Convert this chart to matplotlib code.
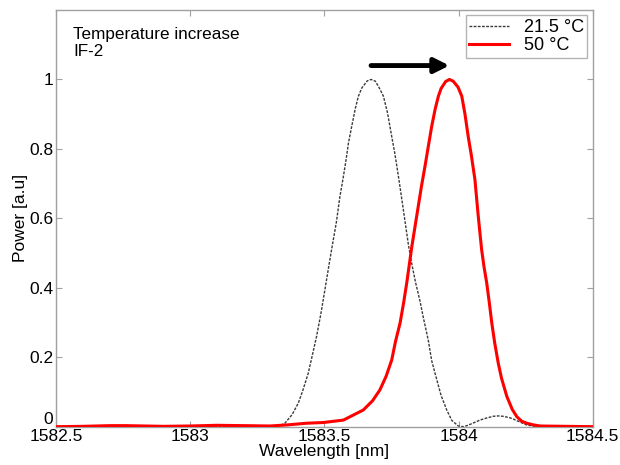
import matplotlib
matplotlib.use("Agg")
import matplotlib.pyplot as plt
import numpy as np

plt.rcParams['font.family'] = ['Liberation Sans', 'DejaVu Sans']

# 21.5 C spectrum
wl_cold = [1582.5, 1583.0, 1583.3, 1583.322, 1583.335, 1583.353, 1583.38, 1583.403,
           1583.42, 1583.44, 1583.455, 1583.471, 1583.487, 1583.502, 1583.515,
           1583.527, 1583.545, 1583.558, 1583.57, 1583.581, 1583.59, 1583.602,
           1583.615, 1583.627, 1583.64, 1583.66, 1583.674, 1583.69, 1583.705,
           1583.72, 1583.735, 1583.751, 1583.763, 1583.776, 1583.79, 1583.813,
           1583.826, 1583.84, 1583.856, 1583.87, 1583.887, 1583.9, 1583.919,
           1583.935, 1583.956, 1583.975, 1583.999, 1584.018, 1584.035, 1584.05,
           1584.065, 1584.08, 1584.1, 1584.13, 1584.148, 1584.165, 1584.19,
           1584.204, 1584.23, 1584.254, 1584.275, 1584.3, 1584.5]
pw_cold = [0.0, 0.0, 0.0, 0.001, 0.004, 0.010, 0.035, 0.068,
           0.105, 0.154, 0.205, 0.260, 0.325, 0.394, 0.455,
           0.510, 0.590, 0.663, 0.716, 0.769, 0.818, 0.865,
           0.915, 0.952, 0.976, 0.996, 1.0, 0.995, 0.975,
           0.952, 0.905, 0.836, 0.785, 0.721, 0.648, 0.525,
           0.468, 0.415, 0.363, 0.310, 0.250, 0.190, 0.135,
           0.090, 0.048, 0.018, 0.002, 0.0, 0.004, 0.009,
           0.014, 0.019, 0.024, 0.030, 0.031, 0.030, 0.026,
           0.022, 0.013, 0.005, 0.002, 0.0, 0.0]

# 50 C spectrum
wl_hot = [1582.5, 1582.6, 1582.7, 1582.76, 1582.9, 1583.0, 1583.1, 1583.2,
          1583.297, 1583.36, 1583.434, 1583.496, 1583.571, 1583.645, 1583.68,
          1583.707, 1583.73, 1583.751, 1583.765, 1583.782, 1583.795, 1583.807,
          1583.826, 1583.838, 1583.85, 1583.862, 1583.875, 1583.888, 1583.9,
          1583.913, 1583.925, 1583.935, 1583.952, 1583.966, 1583.98, 1583.998,
          1584.012, 1584.024, 1584.036, 1584.048, 1584.061, 1584.073, 1584.086,
          1584.095, 1584.105, 1584.115, 1584.124, 1584.135, 1584.148, 1584.16,
          1584.18, 1584.2, 1584.217, 1584.235, 1584.254, 1584.28, 1584.304,
          1584.4, 1584.5]
pw_hot = [0.0, 0.001, 0.003, 0.003, 0.001, 0.002, 0.004, 0.003,
          0.002, 0.005, 0.010, 0.012, 0.019, 0.048, 0.075,
          0.106, 0.145, 0.192, 0.245, 0.298, 0.355, 0.414,
          0.519, 0.577, 0.635, 0.693, 0.750, 0.810, 0.865,
          0.915, 0.952, 0.974, 0.994, 1.0, 0.995, 0.978,
          0.952, 0.900, 0.836, 0.780, 0.712, 0.610, 0.510,
          0.460, 0.414, 0.355, 0.298, 0.240, 0.183, 0.140,
          0.087, 0.050, 0.029, 0.016, 0.010, 0.005, 0.002,
          0.001, 0.0]

legend_labels = ['21.5 °C', '50 °C']
x_ticks = [1582.5, 1583, 1583.5, 1584, 1584.5]
x_ticklabels = ['1582.5', '1583', '1583.5', '1584', '1584.5']
y_ticks = [0, 0.2, 0.4, 0.6, 0.8, 1]
y_ticklabels = ['0', '0.2', '0.4', '0.6', '0.8', '1']

fig = plt.figure(figsize=(6.2, 4.65), dpi=100)
ax = fig.add_axes([0.0903, 0.0824, 0.8657, 0.8961])

ax.plot(wl_cold, pw_cold, color='#3a3a3a', lw=1.0, linestyle=(0, (2, 1)),
        label=legend_labels[0], zorder=2)
ax.plot(wl_hot, pw_hot, color='#ff0000', lw=2.2, label=legend_labels[1], zorder=3,
        solid_joinstyle='round')

ax.set_xlim(1582.5, 1584.5)
ax.set_ylim(0, 1.2)
ax.set_xticks(x_ticks)
ax.set_xticklabels(x_ticklabels)
ax.set_yticks(y_ticks)
ax.set_yticklabels(y_ticklabels)

for s in ax.spines.values():
    s.set_color('#a0a0a0')
    s.set_linewidth(1.0)
ax.tick_params(direction='in', length=4, color='#a0a0a0', labelsize=12.5,
               top=True, right=True, pad=2)
# lift the "0" label a little so it only touches the x labels
ax.get_yticklabels()[0].set_verticalalignment('bottom')

ax.set_xlabel('Wavelength [nm]', fontsize=12.5, labelpad=0)
ax.set_ylabel('Power [a.u]', fontsize=12.5, labelpad=1)

ax.text(0.032, 0.96, 'Temperature increase\nIF-2', transform=ax.transAxes,
        fontsize=12.3, va='top', ha='left', linespacing=1.2)

# shift arrow from cold peak to hot peak
ax.annotate('', xy=(wl_hot[pw_hot.index(1.0)], 1.04),
            xytext=(wl_cold[pw_cold.index(1.0)], 1.04),
            arrowprops=dict(arrowstyle='-|>', color='black', lw=3.5,
                            mutation_scale=22, shrinkA=0, shrinkB=0))

leg = ax.legend(loc='upper right', fontsize=13, frameon=True, fancybox=False,
                edgecolor='#a0a0a0', handlelength=2.2, borderaxespad=0.3,
                borderpad=0.2, labelspacing=0.05, handletextpad=0.8)
leg.get_frame().set_linewidth(1.0)

fig.savefig('out.png', dpi=100)
